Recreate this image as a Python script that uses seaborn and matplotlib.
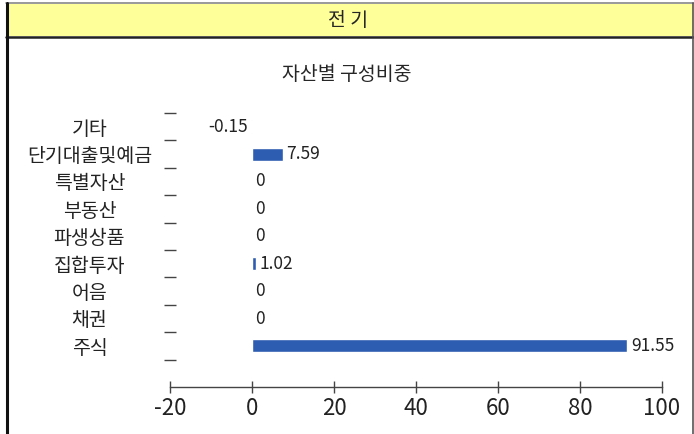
import matplotlib
matplotlib.use("Agg")
import matplotlib.pyplot as plt
import numpy as np
import pandas as pd
import seaborn as sns
from matplotlib.patches import Rectangle
from matplotlib.lines import Line2D

categories = ["기타", "단기대출및예금", "특별자산", "부동산", "파생상품",
              "집합투자", "어음", "채권", "주식"]
values = [-0.15, 7.59, 0, 0, 0, 1.02, 0, 0, 91.55]
x_ticks = [-20, 0, 20, 40, 60, 80, 100]

header_text = "전 기"
chart_title = "자산별 구성비중"

sns.set_style("white")
plt.rcParams["font.family"] = ["Noto Sans CJK KR", "DejaVu Sans"]
plt.rcParams["axes.unicode_minus"] = False

df = pd.DataFrame({"asset": categories, "weight": values})

fig = plt.figure(figsize=(6.94, 4.34), dpi=100)
W, H = 694, 434

# header band and frame
fig.patches.append(Rectangle((6 / W, 1 - 36 / H), 1 - 6 / W, 32 / H,
                             transform=fig.transFigure, facecolor="#FFFF99",
                             edgecolor="none", zorder=0))
fig.lines.append(Line2D([6 / W, 1], [1 - 37 / H, 1 - 37 / H], color="#222222",
                        lw=1.8, transform=fig.transFigure))
fig.lines.append(Line2D([6 / W, 1], [1 - 3 / H, 1 - 3 / H], color="#888888",
                        lw=1.2, transform=fig.transFigure))
fig.lines.append(Line2D([6.5 / W, 6.5 / W], [0, 1 - 3 / H], color="#111111",
                        lw=2.2, transform=fig.transFigure))
fig.lines.append(Line2D([1 - 1.5 / W, 1 - 1.5 / W], [0, 1 - 3 / H], color="#555555",
                        lw=1.2, transform=fig.transFigure))
fig.text(348 / W, 1 - 20 / H, header_text, ha="center", va="center", fontsize=14)
fig.text(347 / W, 1 - 75 / H, chart_title, ha="center", va="center", fontsize=14)

ax = fig.add_axes([170 / W, 1 - 387 / H, 492 / W, 274 / H])
sns.barplot(data=df, x="weight", y="asset", orient="h", color="#2D5DB0",
            saturation=1, width=0.48, ax=ax)

ax.bar_label(ax.containers[0], labels=[f"{v:g}" for v in values],
             padding=2.5, fontsize=12.5, color="#222222")

ax.set_xlim(-20, 100)
ax.set_ylim(9.5, -0.5)
ax.set_xticks(x_ticks)
ax.set_xticklabels([str(t) for t in x_ticks], fontsize=16)
ax.set_xlabel("")
ax.set_ylabel("")

for side in ["top", "right", "left"]:
    ax.spines[side].set_visible(False)
ax.spines["bottom"].set_color("#444444")
ax.spines["bottom"].set_linewidth(1.0)

ax.tick_params(axis="x", bottom=True, direction="inout", length=8, width=1,
               color="#444444", pad=3, labelcolor="#222222")
ax.set_yticks(np.arange(-0.5, 9.0, 1.0), minor=True)
ax.tick_params(axis="y", which="minor", direction="inout", length=8, width=1,
               color="#444444", left=True)
ax.tick_params(axis="y", which="major", length=0, pad=58, labelsize=14,
               labelcolor="#222222")
for lab in ax.get_yticklabels():
    lab.set_ha("center")

fig.savefig("out.png", dpi=100)
